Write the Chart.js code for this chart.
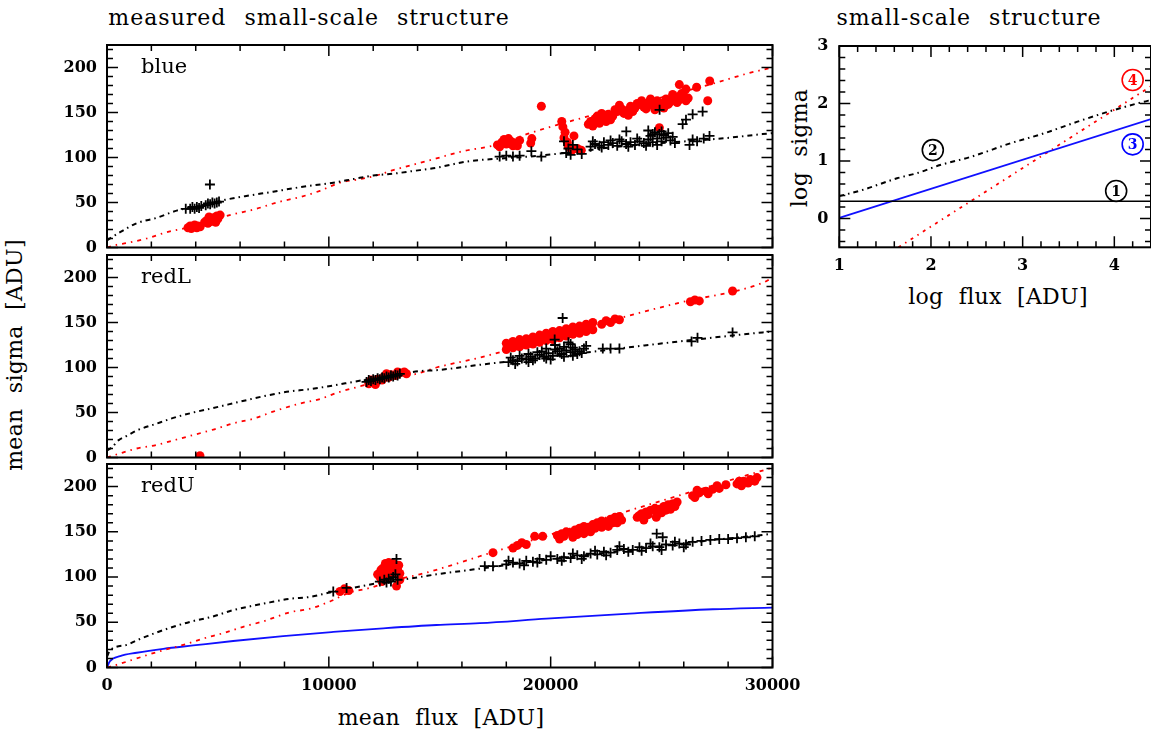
<!DOCTYPE html>
<html>
<head>
<meta charset="utf-8">
<title>small-scale structure</title>
<script src="https://cdn.jsdelivr.net/npm/chart.js@4.4.1/dist/chart.umd.min.js"></script>
<style>
  html, body { margin: 0; padding: 0; background: #fff; }
  body { position: relative; width: 1151px; height: 729px; overflow: hidden; }
  canvas { position: absolute; }
  .txt { position: absolute; font-family: "DejaVu Serif", serif; font-size: 22px; color: #000; white-space: nowrap; letter-spacing: 1px; word-spacing: 10px; transform: translate(-50%, -50%); }
  .axis { letter-spacing: 0.3px; word-spacing: 8px; }
  .vert { transform: translate(-50%, -50%) rotate(-90deg); }
</style>
</head>
<body>
<div class="txt" style="left:309px; top:17px;">measured small-scale structure</div>
<div class="txt" style="left:969px; top:17px;">small-scale structure</div>
<div class="txt axis" style="left:441px; top:717px;">mean flux [ADU]</div>
<div class="txt axis vert" style="left:14px; top:355px;">mean sigma [ADU]</div>
<div class="txt axis" style="left:998px; top:296px;">log flux [ADU]</div>
<div class="txt axis vert" style="left:799px; top:148px;">log sigma</div>

<canvas id="cBlue" width="820" height="223" style="left:0; top:35px;"></canvas>
<canvas id="cRedL" width="820" height="223" style="left:0; top:245px;"></canvas>
<canvas id="cRedU" width="820" height="250" style="left:0; top:454px;"></canvas>
<canvas id="cLog" width="390" height="320" style="left:780px; top:0;"></canvas>

<script>
// tick labels
const fluxTicks = [0, 10000, 20000, 30000];
const sigmaTicks = [0, 50, 100, 150, 200];
const logFluxTicks = [1, 2, 3, 4];
const logSigmaTicks = [0, 1, 2, 3];

// blue chip: [mean flux, mean sigma]
const blueRed = [
  [3650, 22], [3750, 24], [3800, 21], [3900, 23], [3950, 25], [4050, 22], [4100, 24], [4200, 23],
  [4400, 28], [4500, 30], [4550, 27], [4650, 32], [4700, 29], [4800, 33], [4850, 30], [4950, 35], [5000, 32], [5100, 36], [4600, 34], [4900, 28],
  [17600, 114], [17800, 117], [18000, 115], [18200, 118], [18400, 116], [18600, 119], [17900, 120], [18300, 113],
  [17700, 112], [18100, 121], [18500, 113],
  [19100, 116], [19150, 121], [19580, 157],
  [20500, 140], [20550, 134], [20650, 128], [20600, 122], [20750, 117], [20800, 112], [20950, 108], [21050, 124], [21200, 110], [21380, 108],
  [21800, 140], [21900, 135], [22000, 143], [22200, 138], [22300, 149], [22400, 145], [22500, 140], [22600, 148], [22800, 146], [23000, 151],
  [23100, 158], [23200, 154], [23400, 152], [23500, 147], [23600, 157], [23800, 155], [24000, 159], [24100, 163], [24200, 156], [24400, 161],
  [24600, 158], [24700, 153], [24800, 163], [25000, 160], [25100, 155], [25200, 165], [25400, 162], [25600, 167], [25800, 164], [26000, 169], [26200, 166],
  [21700, 137], [22100, 146], [22700, 142], [22900, 153], [23300, 149], [23700, 151], [23900, 160], [24300, 154], [24500, 165], [24900, 157],
  [25300, 159], [25500, 170], [25700, 161], [25900, 171], [26100, 163],
  [24900, 133], [25800, 181], [26100, 176], [26580, 178], [27170, 185], [27080, 163]
];
const blueBlack = [
  [3550, 43], [3750, 43], [3850, 45], [3950, 43], [4050, 45], [4150, 44], [4250, 46],
  [4450, 47], [4550, 49], [4650, 48], [4750, 50], [4850, 49], [4950, 50], [5050, 51], [4640, 70],
  [17700, 101], [18000, 102], [18300, 101], [18600, 102], [19130, 107], [19580, 101],
  [20600, 118], [20700, 105], [20800, 110], [20900, 103], [21000, 114], [21200, 109], [21400, 104],
  [21800, 112], [22000, 115], [22200, 113], [22400, 117], [22600, 114], [22800, 116], [23000, 113], [23200, 118], [23400, 115], [23410, 129],
  [23600, 117], [23800, 114], [24000, 118], [24200, 116], [24400, 120], [24500, 124], [24600, 117], [24700, 128], [24800, 121], [24900, 126],
  [25000, 118], [25100, 125], [25200, 122], [25400, 119], [25600, 116],
  [21900, 118], [22300, 111], [22700, 119], [23100, 120], [23500, 112], [23900, 121], [24300, 113], [24600, 126], [24800, 114], [25000, 129],
  [25300, 127], [25500, 123], [24400, 130],
  [24910, 153], [25950, 137], [26100, 142], [26400, 148], [26850, 151],
  [26260, 114], [26400, 120], [26600, 118], [26900, 121], [27160, 124]
];
const blueFitBlack = [
  [0, 8], [590, 17], [1340, 27], [2240, 33], [3140, 41], [4500, 48], [5320, 53], [6220, 57], [7490, 62], [8700, 67],
  [10200, 72], [11100, 76], [12000, 80], [12900, 82], [13800, 85], [14700, 88], [16350, 96], [17250, 98], [19000, 101],
  [21000, 106], [23000, 112], [25000, 116], [27160, 120], [28070, 122], [29550, 126], [30000, 127]
];
const blueFitRed = [
  [0, 0], [435, 3], [890, 5], [1790, 10], [2690, 17], [3590, 22], [4700, 30], [5690, 37], [6590, 42], [7800, 51],
  [8700, 56], [9600, 63], [10500, 72], [11400, 76], [12150, 80], [12900, 86], [13950, 93], [14850, 99], [16040, 107],
  [17560, 114], [19060, 127], [20260, 136], [27300, 182], [28970, 194], [30000, 200]
];

// redL chip
const redLRed = [
  [4190, 2],
  [11800, 82], [11900, 86], [12000, 84], [12100, 81], [12200, 87], [12400, 86], [12500, 90], [12600, 93], [12700, 89], [12800, 92],
  [13000, 91], [13100, 95], [13200, 94], [13400, 95], [13500, 93],
  [18000, 120], [18000, 127], [18300, 122], [18300, 129], [18600, 123], [18600, 131], [18900, 125], [18900, 132], [19200, 126], [19200, 134],
  [19500, 128], [19500, 136], [19800, 130], [19800, 138], [20100, 131], [20100, 140], [20400, 133], [20400, 141], [20700, 135], [20700, 143],
  [21000, 137], [21000, 145], [21300, 138], [21300, 146], [21600, 140], [21600, 148], [21900, 142], [21900, 150],
  [18150, 124], [18450, 126], [18750, 128], [19050, 129], [19350, 131], [19650, 133], [19950, 135], [20250, 137], [20550, 139], [20850, 141],
  [21150, 142], [21450, 144], [21750, 146],
  [22300, 148], [22500, 152], [22700, 150], [22900, 154], [23100, 153],
  [26300, 173], [26500, 175], [26700, 174], [28200, 185]
];
const redLBlack = [
  [11700, 84], [11800, 86], [11900, 85], [12000, 87], [12100, 86], [12200, 88], [12300, 87], [12400, 89], [12500, 88], [12600, 90],
  [12700, 89], [12800, 91], [12900, 90], [13000, 92], [13100, 91], [13200, 93],
  [18100, 106], [18300, 108], [18500, 107], [18700, 110], [18900, 109], [19100, 112], [19300, 110], [19500, 114], [19700, 112], [19900, 116],
  [20100, 113], [20300, 118], [20500, 115], [20700, 119], [20900, 117], [21100, 120], [21300, 118], [21500, 121], [19000, 106], [20000, 109],
  [21000, 113], [21400, 116], [19600, 118], [20400, 121], [20200, 125],
  [18200, 111], [18600, 113], [19000, 115], [19400, 117], [19800, 121], [20200, 120], [20600, 123], [21000, 122], [19200, 108], [19800, 110],
  [20600, 112], [21200, 115], [18400, 104], [20800, 128],
  [20540, 155], [20180, 131], [20900, 126], [21600, 124],
  [22350, 121], [22700, 121], [23100, 121], [26350, 129], [26620, 133], [28200, 139]
];
const redLFitBlack = [
  [0, 8], [210, 11], [510, 19], [890, 24], [1340, 30], [2160, 37], [2990, 44], [3890, 50], [4790, 55], [5990, 62],
  [7040, 68], [8100, 73], [9150, 76], [10200, 80], [11100, 84], [12500, 90], [14100, 96], [14850, 97], [16800, 103],
  [20000, 112], [25810, 129], [29550, 139], [30000, 140]
];
const redLFitRed = [
  [0, 0], [510, 4], [1340, 10], [2240, 14], [3140, 20], [4040, 26], [4790, 31], [5690, 38], [6590, 43], [7490, 51],
  [8700, 60], [9600, 65], [10500, 73], [11400, 79], [12500, 87], [13950, 93], [14850, 100], [16800, 111], [23430, 157],
  [25800, 172], [29550, 194], [30000, 200]
];

// redU chip
const redURed = [
  [10500, 84], [10700, 87], [10900, 85],
  [12300, 100], [12400, 106], [12400, 95], [12500, 103], [12600, 110], [12600, 98], [12700, 108], [12800, 113], [12800, 102], [12900, 115],
  [12900, 105], [13000, 112], [13050, 90], [13100, 108], [13200, 104], [13200, 97], [12200, 103],
  [12450, 110], [12700, 116], [12550, 115], [12350, 108], [13150, 113],
  [17400, 127], [18300, 132], [18500, 135], [18700, 138], [18900, 136], [19280, 145], [19640, 145],
  [20300, 146], [20400, 142], [20500, 148], [20700, 150], [20900, 149], [21000, 144], [21100, 152], [21300, 154], [21500, 156], [21500, 148],
  [21700, 155], [21800, 150], [21900, 158], [22100, 160], [22300, 162], [22300, 155], [22500, 161], [22600, 156], [22700, 164], [22900, 166],
  [23100, 167], [23000, 160],
  [20600, 145], [21200, 147], [21600, 152], [22000, 154], [22400, 158], [22800, 160], [23200, 163],
  [23900, 166], [24100, 170], [24200, 163], [24300, 172], [24500, 174], [24700, 176], [24760, 166], [24900, 175], [25100, 178], [25300, 180],
  [25500, 181], [25700, 183], [25000, 171], [25400, 175],
  [24000, 168], [24400, 169], [24800, 171], [25200, 174], [25600, 178],
  [26400, 190], [26500, 188], [26700, 193], [27000, 195], [27300, 197], [27600, 198], [27900, 202],
  [26600, 196], [27100, 192], [27500, 201],
  [28400, 203], [28600, 201], [28700, 206], [29000, 208], [29300, 210], [28500, 206], [28900, 204], [29200, 206]
];
const redUBlack = [
  [10200, 84], [10800, 88],
  [12300, 95], [12500, 97], [12600, 94], [12700, 98], [12800, 95], [12900, 100], [13000, 103], [13100, 97], [13050, 120],
  [17030, 112], [17400, 112], [18000, 114], [18300, 116], [18600, 115], [18900, 118], [19200, 117], [19500, 120], [19800, 119], [20300, 120],
  [20600, 122], [20900, 121], [21200, 124], [21500, 123], [21800, 126], [22100, 125], [22400, 128], [22700, 127], [23000, 130], [23300, 131],
  [23700, 130], [24000, 133], [24300, 132], [24600, 134], [24900, 133], [25200, 136], [25500, 135], [25800, 137], [26100, 136],
  [18100, 118], [18800, 113], [19400, 116], [20000, 123], [20500, 118], [21000, 126], [21400, 120], [22000, 129], [22500, 124], [23100, 134],
  [23500, 128], [24100, 129], [24500, 137], [25000, 130], [25600, 139], [26000, 133],
  [24780, 148], [25050, 144],
  [26400, 139], [26800, 140], [27200, 141], [27600, 142], [28000, 142], [28400, 143], [28800, 144], [29200, 145]
];
const redUFitBlack = [
  [0, 12], [135, 19], [890, 25], [1340, 30], [2160, 38], [2990, 45], [3820, 51], [4720, 56], [5620, 63], [6520, 68],
  [7340, 72], [8240, 76], [9150, 78], [10050, 83], [11100, 88], [12150, 93], [14100, 100], [14850, 103], [17030, 110],
  [19810, 119], [24310, 132], [27310, 141], [29720, 147], [30000, 148]
];
const redUFitRed = [
  [0, 0], [435, 3], [1340, 10], [2240, 17], [3440, 25], [4340, 32], [5240, 38], [6140, 45], [7040, 51], [8240, 61],
  [9150, 65], [10050, 73], [10950, 83], [11700, 87], [13200, 98], [14100, 103], [14850, 108], [16800, 123], [29720, 219], [30000, 221]
];
const redUPoisson = [
  [0, 0], [135, 7], [590, 12.6], [1340, 16.3], [2540, 20.7], [3890, 24.4], [5690, 29.3], [7940, 34.8], [10200, 39.3],
  [12450, 43.3], [14850, 47], [16800, 49], [19810, 54], [23560, 59.6], [27310, 64.4], [30000, 66.3]
];

// noise components, log flux vs log sigma
const readNoise = [[1, 0.30], [4.4, 0.30]];
const totalNoise = [[1.0, 0.39], [1.26, 0.50], [1.63, 0.70], [1.85, 0.79], [2.10, 0.93], [2.43, 1.07], [2.87, 1.31], [3.23, 1.48], [3.59, 1.68], [3.96, 1.87], [4.32, 2.03], [4.4, 2.06]];
const photonNoise = [[1.0, 0.01], [4.4, 1.73]];
const structNoise = [[1.645, -0.5], [4.4, 2.3]];
const markText = ['1', '2', '3', '4'];
const markX = [4.02, 2.02, 4.2, 4.2];
const markY = [0.48, 1.19, 1.29, 2.41];
const markColor = ['#000', '#000', '#0000ff', '#ff0000'];

const RED = '#ff0000', BLACK = '#000000', BLUE = '#1010ff';
const tickFont = { family: 'DejaVu Serif', size: 16, weight: 'bold' };

function pts(arr) { return arr.map(p => ({ x: p[0], y: p[1] })); }

function plusSet(arr) {
  return { type: 'scatter', data: pts(arr), pointStyle: 'cross', pointRadius: 5, borderColor: BLACK, backgroundColor: BLACK, borderWidth: 1.8, clip: 0 };
}
function dotSet(arr) {
  return { type: 'scatter', data: pts(arr), pointStyle: 'circle', pointRadius: 4.5, backgroundColor: RED, borderWidth: 0, clip: 0 };
}
function curveSet(arr, color, dash, width) {
  return { type: 'line', data: pts(arr), borderColor: color, borderWidth: width || 1.5, borderDash: dash, pointRadius: 0, fill: false,
    cubicInterpolationMode: 'monotone', clip: 0 };
}

function isMajor(v, step) { const r = v / step; return Math.abs(r - Math.round(r)) < 1e-6; }

// box, inward ticks on all four sides, panel name and circled labels
function framePlugin(cfg) {
  return {
    id: 'frame',
    afterDatasetsDraw(chart) {
      const { ctx, chartArea: a } = chart;
      const xs = chart.scales.x, ys = chart.scales.y;
      ctx.save();
      ctx.strokeStyle = BLACK;
      ctx.lineWidth = 1.5;
      ctx.beginPath();
      const x0 = Math.ceil(xs.min / cfg.xMinor - 1e-6) * cfg.xMinor;
      for (let i = 0; ; i++) {
        const v = x0 + i * cfg.xMinor;
        if (v > xs.max + 1e-6) break;
        const p = xs.getPixelForValue(v);
        const len = isMajor(v, cfg.xMajor) ? 11 : 6;
        ctx.moveTo(p, a.bottom); ctx.lineTo(p, a.bottom - len);
        ctx.moveTo(p, a.top); ctx.lineTo(p, a.top + len);
      }
      const y0 = Math.ceil(ys.min / cfg.yMinor - 1e-6) * cfg.yMinor;
      for (let i = 0; ; i++) {
        const v = y0 + i * cfg.yMinor;
        if (v > ys.max + 1e-6) break;
        const p = ys.getPixelForValue(v);
        const len = isMajor(v, cfg.yMajor) ? 11 : 6;
        ctx.moveTo(a.left, p); ctx.lineTo(a.left + len, p);
        ctx.moveTo(a.right, p); ctx.lineTo(a.right - len, p);
      }
      ctx.stroke();
      ctx.lineWidth = 2;
      ctx.strokeRect(a.left, a.top, a.right - a.left, a.bottom - a.top);

      ctx.fillStyle = BLACK;
      if (cfg.name) {
        ctx.font = '21px "DejaVu Serif"';
        ctx.textAlign = 'left';
        ctx.textBaseline = 'middle';
        ctx.fillText(cfg.name, a.left + 34, a.top + 23);
      }
      if (cfg.marks) {
        ctx.textAlign = 'center';
        ctx.textBaseline = 'middle';
        ctx.font = 'bold 14px "DejaVu Serif"';
        markText.forEach((t, i) => {
          const px = xs.getPixelForValue(markX[i]), py = ys.getPixelForValue(markY[i]);
          ctx.strokeStyle = markColor[i];
          ctx.fillStyle = markColor[i];
          ctx.lineWidth = 1.6;
          ctx.beginPath();
          ctx.arc(px, py, 10.5, 0, Math.PI * 2);
          ctx.stroke();
          ctx.fillText(t, px, py + 1);
        });
      }
      ctx.restore();
    }
  };
}

function fixedTicks(list) {
  return s => { s.ticks = list.map(v => ({ value: v })); };
}

function fluxPanel(id, name, black, red, fitBlack, fitRed, extra, showX) {
  const datasets = [plusSet(black), dotSet(red), curveSet(fitBlack, BLACK, [5, 4, 1.5, 4], 2), curveSet(fitRed, RED, [4, 5, 1.5, 5], 1.8)];
  if (extra) datasets.push(curveSet(extra, BLUE, [], 1.8));
  return new Chart(document.getElementById(id), {
    type: 'scatter',
    data: { datasets },
    options: {
      responsive: false,
      animation: false,
      events: [],
      layout: { padding: { top: 10, right: 47.5, bottom: showX ? 0 : 10.5, left: 0 } },
      plugins: { legend: { display: false }, tooltip: { enabled: false } },
      scales: {
        x: {
          type: 'linear', min: 0, max: 30000, display: showX,
          grid: { display: false, drawTicks: false }, border: { display: false },
          afterBuildTicks: fixedTicks(fluxTicks),
          afterFit: s => { s.height = showX ? 36.5 : 0; s.paddingLeft = 0; s.paddingRight = 0; },
          ticks: { font: tickFont, color: BLACK, padding: 9, maxRotation: 0, autoSkip: false, callback: v => String(v) }
        },
        y: {
          type: 'linear', min: 0, max: 225,
          grid: { display: false, drawTicks: false }, border: { display: false },
          afterBuildTicks: fixedTicks(sigmaTicks),
          afterFit: s => { s.width = 107; s.paddingTop = 0; s.paddingBottom = 0; },
          ticks: { font: tickFont, color: BLACK, padding: 10, callback: v => String(v) }
        }
      }
    },
    plugins: [framePlugin({ name, xMinor: 2000, xMajor: 10000, yMinor: 10, yMajor: 50 })]
  });
}

fluxPanel('cBlue', 'blue', blueBlack, blueRed, blueFitBlack, blueFitRed, null, false);
fluxPanel('cRedL', 'redL', redLBlack, redLRed, redLFitBlack, redLFitRed, null, false);
fluxPanel('cRedU', 'redU', redUBlack, redURed, redUFitBlack, redUFitRed, redUPoisson, true);

// log-log panel with the four noise terms
new Chart(document.getElementById('cLog'), {
  type: 'scatter',
  data: {
    datasets: [
      curveSet(readNoise, BLACK, [], 1.5),
      curveSet(totalNoise, BLACK, [5, 4, 1.5, 4], 2),
      curveSet(photonNoise, BLUE, [], 1.8),
      curveSet(structNoise, RED, [3, 5, 1.5, 5], 1.8)
    ]
  },
  options: {
    responsive: false,
    animation: false,
    events: [],
    layout: { padding: { top: 46, right: 19, bottom: 0, left: 0 } },
    plugins: { legend: { display: false }, tooltip: { enabled: false } },
    scales: {
      x: {
        type: 'linear', min: 1, max: 4.4,
        grid: { display: false, drawTicks: false }, border: { display: false },
        afterBuildTicks: fixedTicks(logFluxTicks),
        afterFit: s => { s.height = 72.7; s.paddingLeft = 0; s.paddingRight = 0; },
        ticks: { font: tickFont, color: BLACK, padding: 9, maxRotation: 0, autoSkip: false, callback: v => String(v) }
      },
      y: {
        type: 'linear', min: -0.5, max: 3,
        grid: { display: false, drawTicks: false }, border: { display: false },
        afterBuildTicks: fixedTicks(logSigmaTicks),
        afterFit: s => { s.width = 59.3; s.paddingTop = 0; s.paddingBottom = 0; },
        ticks: { font: tickFont, color: BLACK, padding: 11, callback: v => String(v) }
      }
    }
  },
  plugins: [framePlugin({ marks: true, xMinor: 0.2, xMajor: 1, yMinor: 0.2, yMajor: 1 })]
});
</script>
</body>
</html>
